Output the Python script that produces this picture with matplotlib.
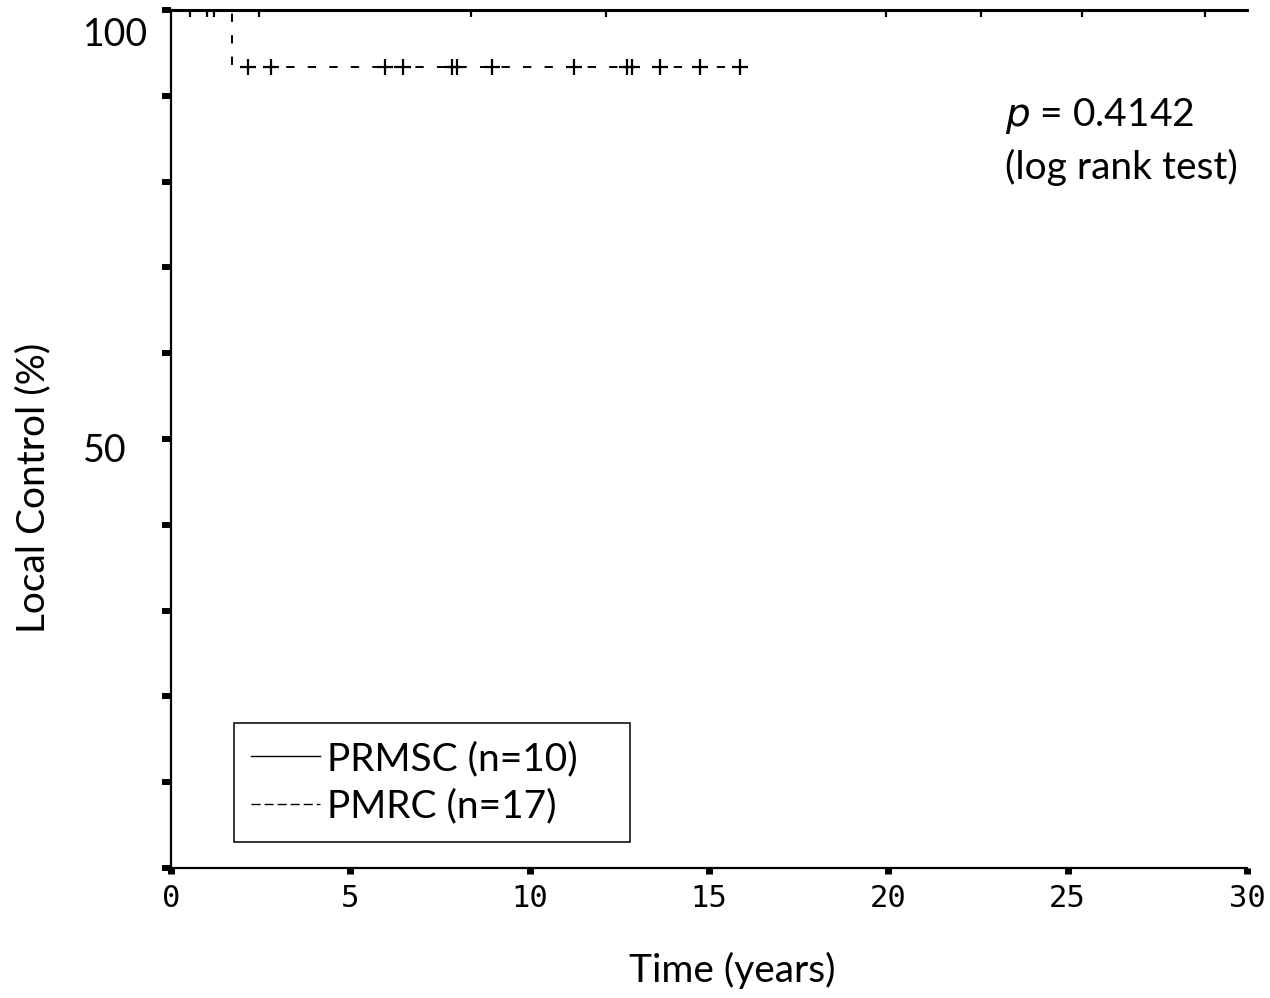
import matplotlib.pyplot as plt
from matplotlib.lines import Line2D
import matplotlib.transforms as mtransforms

plt.rcParams['lines.scale_dashes'] = False

# data
solid_times = [0, 30]
solid_surv = [100, 100]
solid_censor = [0.52, 1.00, 1.21, 2.45, 8.36, 12.13, 19.93, 22.58, 25.40, 28.83]

dashed_times = [0, 1.70, 15.86]
dashed_surv = [100, 93.4, 93.4]
dashed_censor = [2.14, 2.78, 5.97, 6.47, 7.83, 7.97, 8.95, 11.24, 12.71, 12.85,
                 13.63, 14.75, 15.86]

x_ticks = [0, 5, 10, 15, 20, 25, 30]
y_ticks = [0, 10, 20, 30, 40, 50, 60, 70, 80, 90, 100]
y_labels = ['', '', '', '', '', '50', '', '', '', '', '100']
legend_labels = ['PRMSC (n=10)', 'PMRC (n=17)']

txt_font = 'Lato'
tick_font = 'DejaVu Sans Mono'
fs = 28

fig = plt.figure(figsize=(12.7, 9.98), dpi=100)
ax = fig.add_axes([0.1346, 0.1303, 0.8472, 0.8597])

# dashed curve (PMRC)
ax.plot(dashed_times, dashed_surv, drawstyle='steps-post', color='black',
        linewidth=1.4, dashes=(6, 9.5), clip_on=False)
ax.plot(dashed_censor, [dashed_surv[-1]] * len(dashed_censor), linestyle='none',
        marker='+', markersize=12, markeredgewidth=1.6, color='black', clip_on=False)

# solid curve (PRMSC)
ax.plot(solid_times, solid_surv, drawstyle='steps-post', color='black',
        linewidth=2.2, clip_on=False)
ax.plot(solid_censor, [solid_surv[0]] * len(solid_censor), linestyle='none',
        marker=3, markersize=5, markeredgewidth=1.6, color='black', clip_on=False)

ax.set_xlim(0, 30)
ax.set_ylim(0, 100)
ax.spines['top'].set_visible(False)
ax.spines['right'].set_visible(False)
ax.spines['left'].set_linewidth(1.6)
ax.spines['bottom'].set_linewidth(1.6)

ax.set_xticks(x_ticks)
ax.set_xticklabels([str(v) for v in x_ticks], fontfamily=tick_font, fontsize=22)
ax.set_yticks(y_ticks)
ax.set_yticklabels(y_labels, fontfamily=txt_font, fontsize=27, ha='left')
ax.tick_params(axis='x', length=4.5, width=5, direction='out', pad=7)
ax.tick_params(axis='y', length=6.5, width=4.3, direction='out', pad=57)
for lab, shift in zip(ax.get_yticklabels(), [0] * 5 + [-0.09] + [0] * 4 + [-0.22]):
    lab.set_transform(lab.get_transform() +
                      mtransforms.ScaledTranslation(0, shift, fig.dpi_scale_trans))

ax.set_xlabel('Time (years)', fontfamily=txt_font, fontsize=fs)
ax.xaxis.set_label_coords(0.522, -0.119)
ax.xaxis.label.set_va('center')
ax.set_ylabel('Local Control (%)', fontfamily=txt_font, fontsize=fs)
ax.yaxis.set_label_coords(-0.128, 0.443)
ax.yaxis.label.set_va('center')

ax.text(0.775, 0.876, r'$\it{p}$ = 0.4142', transform=ax.transAxes,
        fontfamily=txt_font, fontsize=fs, va='center', ha='left')
ax.text(0.775, 0.816, '(log rank test)', transform=ax.transAxes,
        fontfamily=txt_font, fontsize=fs, va='center', ha='left')

handles = [Line2D([], [], color='black', linewidth=1.0),
           Line2D([], [], color='black', linewidth=1.0, dashes=(6.5, 2.9))]
leg = ax.legend(handles, legend_labels, loc='lower left', mode='expand',
                bbox_to_anchor=(0.0586, 0.0303, 0.368, 0.2),
                frameon=True, fancybox=False,
                edgecolor='black', framealpha=1, borderpad=0.45, handlelength=1.75,
                handletextpad=0.2, labelspacing=0.3, borderaxespad=0,
                prop={'family': txt_font, 'size': fs})
leg.get_frame().set_linewidth(1.1)

fig.savefig('out.png', dpi=100)
